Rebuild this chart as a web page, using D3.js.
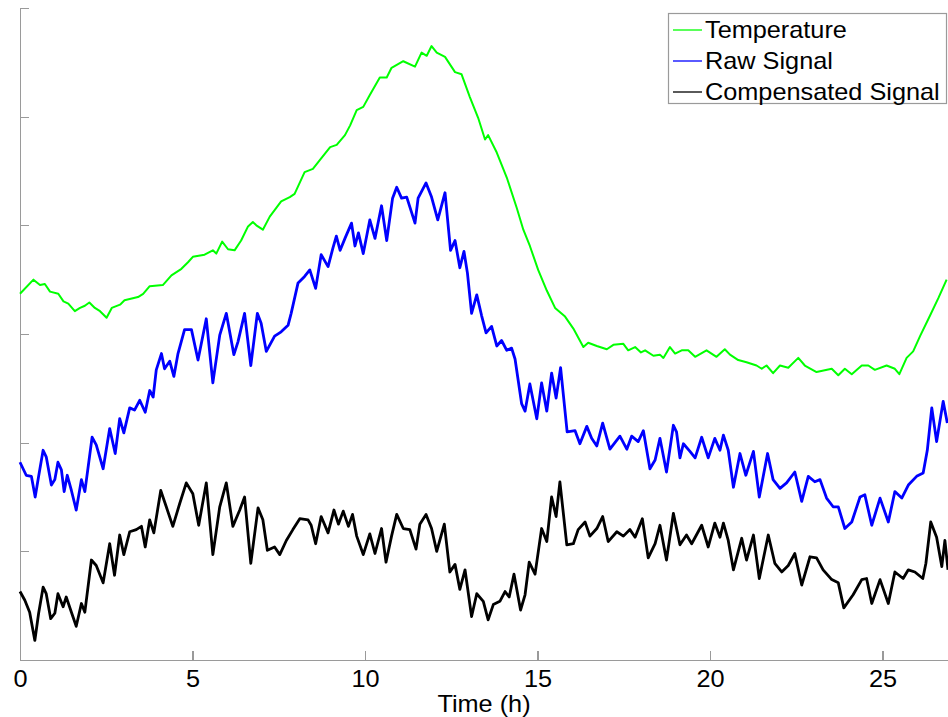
<!DOCTYPE html>
<html>
<head>
<meta charset="utf-8">
<script src="https://cdn.jsdelivr.net/npm/d3@7"></script>
<style>
  html, body { margin: 0; padding: 0; background: #fff; }
  svg { display: block; font-family: "Liberation Sans", Arial, Helvetica, sans-serif; }
  .axis path, .axis line { stroke: #9a9a9a; stroke-width: 1.2; shape-rendering: crispEdges; }
  .axis text { fill: #000; font-size: 23px; }
</style>
</head>
<body>
<svg id="chart" width="948" height="717"></svg>
<script>
// Time axis ticks (hours) and unlabelled level ticks
const timeTicks = [0, 5, 10, 15, 20, 25];
const levelTicks = [0, 1, 2, 3, 4, 5, 6];
const seriesNames = ["Temperature", "Raw Signal", "Compensated Signal"];
const seriesColors = ["#00ff00", "#0000ff", "#000000"];

// [time (h), level] samples for each trace
const temperature = [
  [0,3.37],[0.39,3.50],[0.58,3.45],[0.72,3.46],[0.87,3.39],[1.11,3.37],[1.26,3.30],[1.40,3.28],
  [1.59,3.21],[1.74,3.24],[1.88,3.26],[2.01,3.29],[2.17,3.24],[2.32,3.21],[2.51,3.15],[2.66,3.24],
  [2.90,3.27],[3.03,3.31],[3.42,3.34],[3.57,3.37],[3.76,3.44],[4.14,3.45],[4.39,3.54],[4.68,3.60],
  [4.87,3.66],[5.01,3.71],[5.35,3.73],[5.59,3.77],[5.69,3.74],[5.86,3.85],[6.03,3.78],[6.22,3.77],
  [6.41,3.86],[6.61,3.99],[6.75,4.03],[6.85,4.00],[7.04,3.96],[7.24,4.08],[7.57,4.22],[7.82,4.26],
  [7.96,4.29],[8.25,4.49],[8.49,4.52],[8.69,4.60],[8.99,4.72],[9.18,4.74],[9.42,4.83],[9.57,4.92],
  [9.76,5.06],[9.95,5.09],[10.14,5.20],[10.43,5.36],[10.63,5.36],[10.77,5.45],[11.11,5.51],[11.45,5.46],
  [11.64,5.59],[11.79,5.56],[11.93,5.65],[12.08,5.59],[12.32,5.55],[12.61,5.41],[12.80,5.39],[13.04,5.18],
  [13.28,4.99],[13.48,4.79],[13.57,4.83],[13.82,4.67],[14.11,4.44],[14.40,4.16],[14.59,3.96],[14.78,3.81],
  [15.02,3.59],[15.27,3.40],[15.51,3.24],[15.80,3.16],[16.04,3.05],[16.33,2.88],[16.47,2.92],[16.72,2.89],
  [17.01,2.86],[17.20,2.90],[17.49,2.91],[17.63,2.85],[17.83,2.88],[18.00,2.83],[18.12,2.85],[18.36,2.80],
  [18.55,2.81],[18.65,2.78],[18.84,2.88],[18.99,2.82],[19.18,2.85],[19.37,2.85],[19.57,2.79],[19.90,2.85],
  [20.19,2.79],[20.43,2.86],[20.58,2.81],[20.82,2.76],[21.06,2.74],[21.35,2.71],[21.50,2.68],[21.64,2.71],
  [21.83,2.64],[22.03,2.71],[22.27,2.69],[22.56,2.78],[22.75,2.71],[23.09,2.65],[23.53,2.68],[23.72,2.62],
  [23.91,2.68],[24.11,2.63],[24.40,2.71],[24.59,2.71],[24.78,2.67],[25.12,2.71],[25.36,2.68],[25.49,2.63],
  [25.70,2.78],[25.89,2.84],[26.09,2.98],[26.38,3.17],[26.62,3.33],[26.86,3.50]
];

const rawSignal = [
  [0,1.82],[0.18,1.70],[0.33,1.69],[0.44,1.50],[0.54,1.69],[0.67,1.93],[0.76,1.87],[0.91,1.61],
  [1.01,1.66],[1.10,1.82],[1.20,1.75],[1.28,1.55],[1.37,1.70],[1.49,1.56],[1.63,1.38],[1.78,1.66],
  [1.88,1.55],[2.09,2.05],[2.21,1.98],[2.41,1.76],[2.60,2.13],[2.76,1.90],[2.89,2.22],[3.01,2.09],
  [3.18,2.32],[3.32,2.30],[3.47,2.39],[3.63,2.28],[3.76,2.48],[3.86,2.42],[3.95,2.67],[4.10,2.82],
  [4.19,2.68],[4.34,2.75],[4.46,2.61],[4.58,2.82],[4.77,3.04],[4.97,3.04],[5.16,2.76],[5.40,3.14],
  [5.59,2.55],[5.79,2.99],[5.98,3.19],[6.20,2.81],[6.32,2.93],[6.51,3.19],[6.69,2.71],[6.88,3.19],
  [6.99,3.10],[7.14,2.84],[7.38,2.98],[7.57,3.02],[7.77,3.08],[7.86,3.19],[8.06,3.47],[8.25,3.53],
  [8.40,3.59],[8.57,3.42],[8.73,3.73],[8.93,3.62],[9.07,3.79],[9.17,3.90],[9.28,3.77],[9.42,3.88],
  [9.61,4.02],[9.71,3.81],[9.81,3.93],[9.95,3.74],[10.14,4.05],[10.29,3.88],[10.48,4.18],[10.63,3.86],
  [10.80,4.25],[10.92,4.35],[11.06,4.25],[11.21,4.26],[11.45,4.02],[11.54,4.25],[11.77,4.39],[11.93,4.26],
  [12.11,4.05],[12.32,4.30],[12.48,3.77],[12.61,3.86],[12.75,3.61],[12.87,3.76],[12.97,3.56],[13.09,3.19],
  [13.24,3.36],[13.38,3.17],[13.51,3.01],[13.67,3.07],[13.82,2.89],[13.96,2.94],[14.11,2.85],[14.25,2.87],
  [14.35,2.77],[14.54,2.36],[14.64,2.29],[14.78,2.54],[14.98,2.22],[15.12,2.55],[15.27,2.29],[15.41,2.64],
  [15.54,2.41],[15.67,2.69],[15.86,2.10],[16.09,2.11],[16.23,1.99],[16.43,2.15],[16.57,2.04],[16.72,1.97],
  [16.89,2.18],[17.10,1.94],[17.39,2.06],[17.59,1.94],[17.73,2.06],[17.92,2.01],[18.07,2.11],[18.26,1.76],
  [18.41,1.84],[18.55,2.04],[18.74,1.73],[18.94,2.16],[19.03,2.10],[19.13,1.86],[19.23,1.99],[19.42,1.92],
  [19.57,1.86],[19.76,2.05],[19.95,1.86],[20.14,2.04],[20.29,1.93],[20.39,2.07],[20.53,1.93],[20.68,1.59],
  [20.87,1.90],[21.04,1.70],[21.26,1.92],[21.43,1.50],[21.67,1.90],[21.83,1.66],[22.03,1.58],[22.22,1.63],
  [22.46,1.73],[22.66,1.46],[22.85,1.69],[23.04,1.64],[23.19,1.66],[23.38,1.49],[23.57,1.41],[23.72,1.41],
  [23.91,1.21],[24.11,1.27],[24.35,1.50],[24.49,1.52],[24.69,1.24],[24.93,1.49],[25.17,1.27],[25.36,1.55],
  [25.56,1.49],[25.75,1.61],[25.99,1.69],[26.18,1.72],[26.30,1.93],[26.43,2.32],[26.57,2.01],[26.76,2.38],
  [26.88,2.18]
];

const compensatedSignal = [
  [0,0.63],[0.14,0.55],[0.28,0.44],[0.43,0.18],[0.54,0.43],[0.67,0.67],[0.76,0.61],[0.89,0.38],
  [1.01,0.43],[1.10,0.61],[1.25,0.49],[1.34,0.58],[1.49,0.44],[1.63,0.31],[1.78,0.52],[1.88,0.44],
  [2.07,0.92],[2.21,0.87],[2.41,0.71],[2.60,1.07],[2.74,0.78],[2.89,1.15],[3.01,0.97],[3.18,1.18],
  [3.37,1.20],[3.52,1.23],[3.63,1.04],[3.76,1.29],[3.88,1.17],[4.08,1.56],[4.24,1.41],[4.43,1.23],
  [4.63,1.44],[4.82,1.63],[5.01,1.53],[5.18,1.24],[5.40,1.63],[5.59,0.97],[5.79,1.41],[5.98,1.63],
  [6.17,1.23],[6.37,1.38],[6.51,1.50],[6.69,0.89],[6.90,1.40],[7.04,1.29],[7.17,1.01],[7.38,1.04],
  [7.53,0.97],[7.72,1.10],[7.91,1.20],[8.11,1.30],[8.35,1.29],[8.44,1.24],[8.57,1.07],[8.73,1.32],
  [8.93,1.17],[9.10,1.38],[9.23,1.25],[9.37,1.37],[9.52,1.23],[9.64,1.34],[9.76,1.14],[9.95,0.97],
  [10.14,1.16],[10.29,0.98],[10.48,1.21],[10.61,0.90],[10.77,1.14],[10.92,1.34],[11.11,1.21],[11.30,1.20],
  [11.48,1.02],[11.59,1.25],[11.77,1.34],[11.93,1.21],[12.08,1.00],[12.30,1.25],[12.46,0.81],[12.61,0.88],
  [12.75,0.65],[12.90,0.83],[13.09,0.40],[13.24,0.61],[13.43,0.54],[13.57,0.37],[13.72,0.51],[13.91,0.54],
  [14.06,0.63],[14.18,0.58],[14.32,0.79],[14.51,0.46],[14.64,0.60],[14.76,0.90],[14.93,0.79],[15.12,1.21],
  [15.27,1.09],[15.41,1.50],[15.54,1.32],[15.65,1.64],[15.85,1.06],[16.04,1.07],[16.18,1.20],[16.38,1.27],
  [16.52,1.14],[16.72,1.21],[16.89,1.32],[17.05,1.09],[17.30,1.18],[17.49,1.14],[17.68,1.20],[17.83,1.13],
  [18.04,1.30],[18.21,0.94],[18.41,1.07],[18.55,1.24],[18.74,0.92],[18.94,1.35],[19.13,1.06],[19.32,1.15],
  [19.47,1.07],[19.76,1.24],[19.95,1.04],[20.14,1.26],[20.29,1.13],[20.39,1.26],[20.53,1.10],[20.68,0.83],
  [20.92,1.12],[21.06,0.92],[21.26,1.15],[21.43,0.75],[21.69,1.15],[21.88,0.89],[22.08,0.81],[22.27,0.87],
  [22.46,0.98],[22.66,0.69],[22.90,0.95],[23.09,0.94],[23.28,0.83],[23.53,0.74],[23.72,0.71],[23.88,0.48],
  [24.15,0.60],[24.40,0.74],[24.54,0.75],[24.69,0.52],[24.93,0.74],[25.17,0.52],[25.36,0.81],[25.60,0.75],
  [25.75,0.83],[25.94,0.81],[26.17,0.75],[26.26,0.89],[26.40,1.27],[26.57,1.13],[26.72,0.86],[26.81,1.10],
  [26.90,0.83]
];

const svg = d3.select("#chart");
const plotLeft = 20, plotRight = 948, plotTop = 8, plotBottom = 660;
const textStretch = "scale(1.1,1)";

const x = d3.scaleLinear().domain([0, 26.9]).range([plotLeft, plotRight]);
const y = d3.scaleLinear().domain([0, 6]).range([plotBottom, plotTop]);

// Axes: ticks point into the plot, no box on top/right
const xAxis = svg.append("g")
  .attr("class", "axis")
  .attr("transform", `translate(0,${plotBottom})`)
  .call(d3.axisBottom(x).tickValues(timeTicks).tickSizeInner(-9).tickSizeOuter(0).tickPadding(11));
xAxis.selectAll(".tick text").attr("transform", textStretch);

svg.append("g")
  .attr("class", "axis")
  .attr("transform", `translate(${plotLeft},0)`)
  .call(d3.axisLeft(y).tickValues(levelTicks).tickSizeInner(-9).tickSizeOuter(0).tickFormat(""));

svg.append("g")
  .attr("transform", `translate(${(plotLeft + plotRight) / 2},712)`)
  .append("text")
  .attr("transform", textStretch)
  .attr("text-anchor", "middle")
  .attr("font-size", 23)
  .attr("fill", "#000")
  .text("Time (h)");

// Traces
const line = d3.line().x(d => x(d[0])).y(d => y(d[1]));
const traces = [temperature, rawSignal, compensatedSignal];
const widths = [2.0, 2.8, 2.8];
traces.forEach((data, i) => {
  svg.append("path")
    .datum(data)
    .attr("fill", "none")
    .attr("stroke", seriesColors[i])
    .attr("stroke-width", widths[i])
    .attr("stroke-linejoin", "round")
    .attr("d", line);
});

// Legend
const legend = svg.append("g");
legend.append("rect")
  .attr("x", 668.5).attr("y", 13.5).attr("width", 278).attr("height", 90)
  .attr("fill", "#fff").attr("stroke", "#9a9a9a").attr("stroke-width", 1.2);
seriesNames.forEach((name, i) => {
  const cy = 30 + i * 31;
  legend.append("line")
    .attr("x1", 673).attr("x2", 702).attr("y1", cy).attr("y2", cy)
    .attr("stroke", seriesColors[i]).attr("stroke-width", 1.3);
  legend.append("g")
    .attr("transform", `translate(705,${cy + 8})`)
    .append("text")
    .attr("transform", textStretch)
    .attr("font-size", 23).attr("fill", "#000")
    .text(name);
});
</script>
</body>
</html>
